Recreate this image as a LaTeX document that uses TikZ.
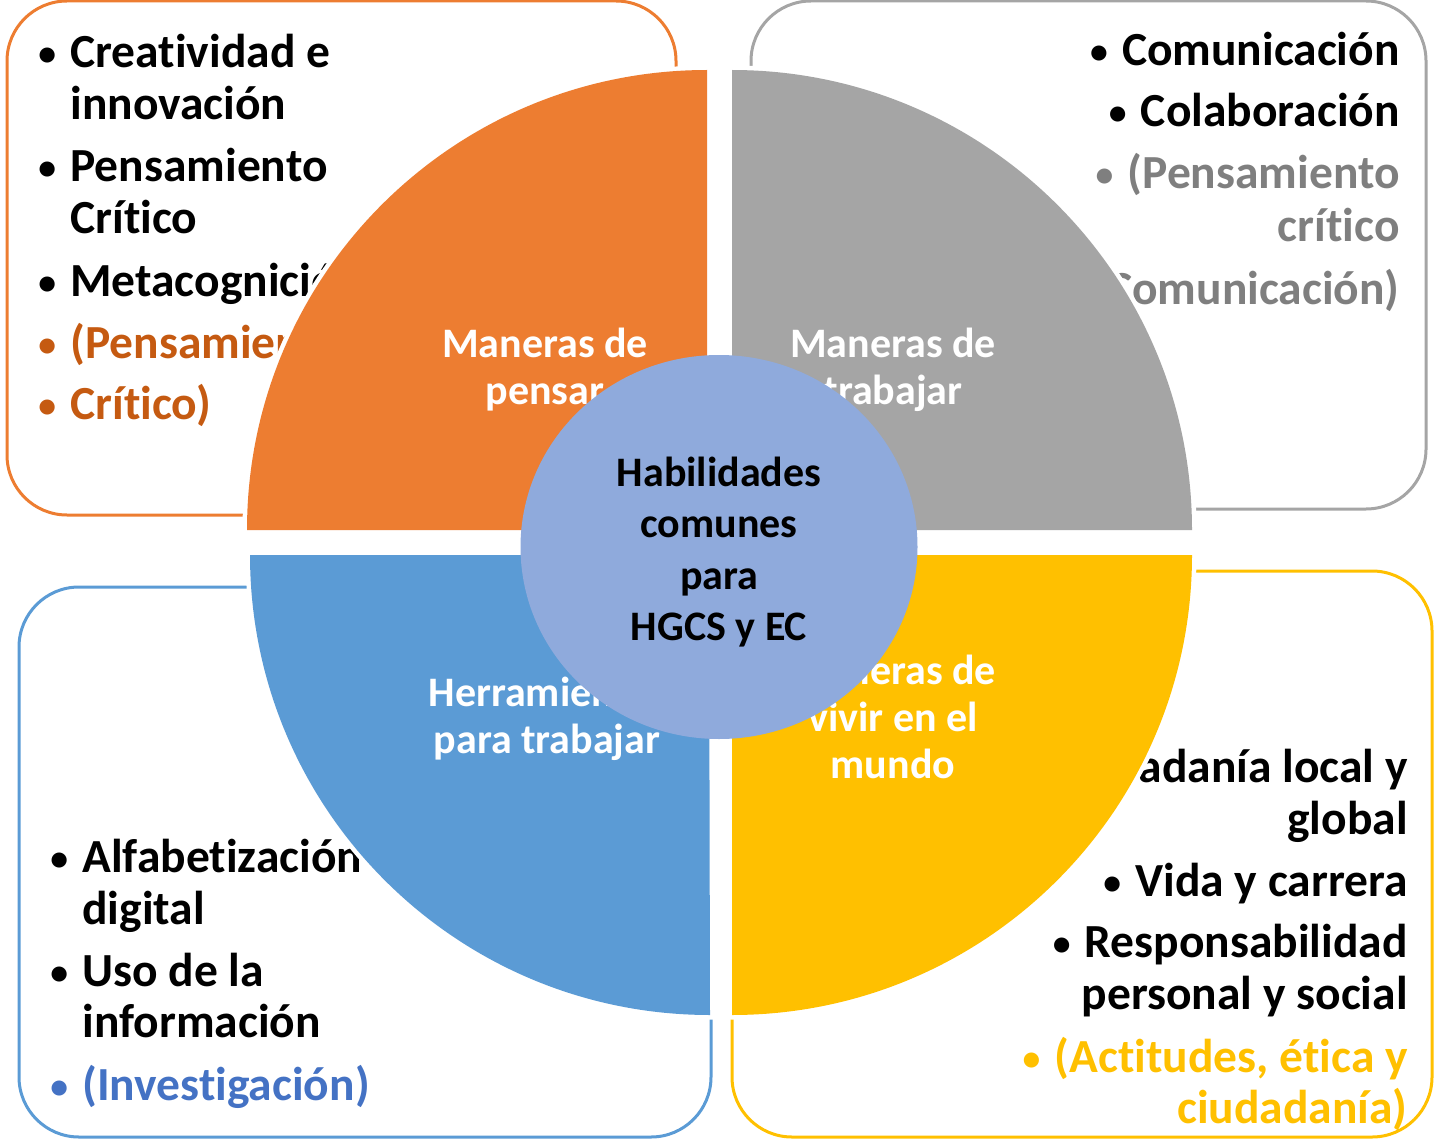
\documentclass[tikz,border=0pt]{standalone}
\usepackage{fontspec}
\usepackage{graphicx}
\setmainfont{Carlito}[Ligatures=NoCommon]
\usetikzlibrary{shapes.geometric}
\definecolor{pensar}{HTML}{ED7D31}
\definecolor{pensartxt}{HTML}{C55A11}
\definecolor{trabajar}{HTML}{A5A5A5}
\definecolor{trabajartxt}{HTML}{7F7F7F}
\definecolor{herram}{HTML}{5B9BD5}
\definecolor{herramtxt}{HTML}{4472C4}
\definecolor{vivir}{HTML}{FFC000}
\definecolor{hubfill}{HTML}{8FAADC}
\newcommand{\bul}{\makebox[16pt][l]{\raisebox{1pt}{\scalebox{0.75}{\textbullet}}}}
\tikzstyle{frame}=[rounded corners=30pt, line width=1.5pt]
\tikzstyle{quarter}=[preaction={draw=white, line width=4.5pt}]
\tikzstyle{lline}=[anchor=base west, inner sep=0pt, font=\fontsize{23.75}{26}\selectfont\bfseries]
\tikzstyle{rline}=[anchor=base east, inner sep=0pt, font=\fontsize{23.75}{26}\selectfont\bfseries]
\tikzstyle{tag}=[white, align=center, inner sep=0pt, font=\fontsize{21}{23.5}\selectfont\bfseries]
\tikzstyle{hub}=[ellipse, fill=hubfill, minimum width=198.5pt, minimum height=192pt, inner sep=0pt]
\tikzstyle{hubtext}=[align=center, inner sep=0pt, font=\fontsize{21}{25.7}\selectfont\bfseries]

\begin{document}
\begin{tikzpicture}[x=0.5pt, y=-0.5pt]
\useasboundingbox (0,0) rectangle (1434,1139);

% frames behind the disc
\draw[frame, pensar]   (7,1) rectangle (676,515);
\draw[frame, trabajar] (751,1) rectangle (1426,509);
\draw[frame, herram]   (19,587) rectangle (711,1137);
\draw[frame, vivir]    (732,571) rectangle (1432,1137);

% Maneras de pensar
\foreach \x/\y/\txt/\col/\name in {38/68/{\bul Creatividad e}/black/p1, 70/120/{innovación}/black/p2,
    38/182/{\bul Pensamiento}/black/p3, 70/234/{Crítico}/black/p4,
    38/296/{\bul Metacognición}/black/p5,
    38/358/{\bul (Pensamiento}/pensartxt/p6, 38/419/{\bul Crítico)}/pensartxt/p7}
    \node[lline, \col] (\name) at (\x,\y) {\txt};

% Maneras de trabajar
\foreach \y/\txt/\col/\name in {66/{\bul Comunicación}/black/t1, 127/{\bul Colaboración}/black/t2,
    189/{\bul (Pensamiento}/trabajartxt/t3, 242/{crítico}/trabajartxt/t4,
    304/{Comunicación)}/trabajartxt/t5}
    \node[rline, \col] (\name) at (1400,\y) {\txt};

% Herramientas para trabajar
\foreach \x/\y/\txt/\col/\name in {50/872/{\bul Alfabetización}/black/h1, 82/924/{digital}/black/h2,
    50/986/{\bul Uso de la}/black/h3, 82/1037/{información}/black/h4,
    50/1100/{\bul (Investigación)}/herramtxt/h5}
    \node[lline, \col] (\name) at (\x,\y) {\txt};

% Maneras de vivir en el mundo
\foreach \y/\txt/\col/\name in {782/{\bul Ciudadanía local y}/black/v1, 834/{global}/black/v2,
    896/{\bul Vida y carrera}/black/v3, 957/{\bul Responsabilidad}/black/v4,
    1009/{personal y social}/black/v5,
    1072/{\bul (Actitudes, ética y}/vivir/v6, 1123/{ciudadanía)}/vivir/v7}
    \node[rline, \col] (\name) at (1408,\y) {\txt};

% the four quarters
\fill[quarter, pensar]   (247,530) arc[start angle=180, end angle=90, radius=230pt] -- (707,530) -- cycle;
\fill[quarter, trabajar] (732,70) arc[start angle=90, end angle=0, radius=230pt] -- (732,530) -- cycle;
\fill[quarter, herram]   (250,555) arc[start angle=180, end angle=270, radius=230pt] -- (709,555) -- cycle;
\fill[quarter, vivir]    (1192,555) arc[start angle=0, end angle=-90, radius=230pt] -- (732,555) -- cycle;

\node[tag] (pensarTag)   at (545,370) {Maneras de\\pensar};
\node[tag] (trabajarTag) at (893,370) {Maneras de\\trabajar};
\node[tag] (herramTag)   at (547,719) {Herramientas\\para trabajar};
\node[tag] (vivirTag)    at (893,717) {Maneras de\\vivir en el\\mundo};

% centre
\node[hub] (hub) at (719,547) {};
\node[hubtext] (hubText) at (719,552) {Habilidades\\comunes\\para\\HGCS y EC};

\end{tikzpicture}
\end{document}
